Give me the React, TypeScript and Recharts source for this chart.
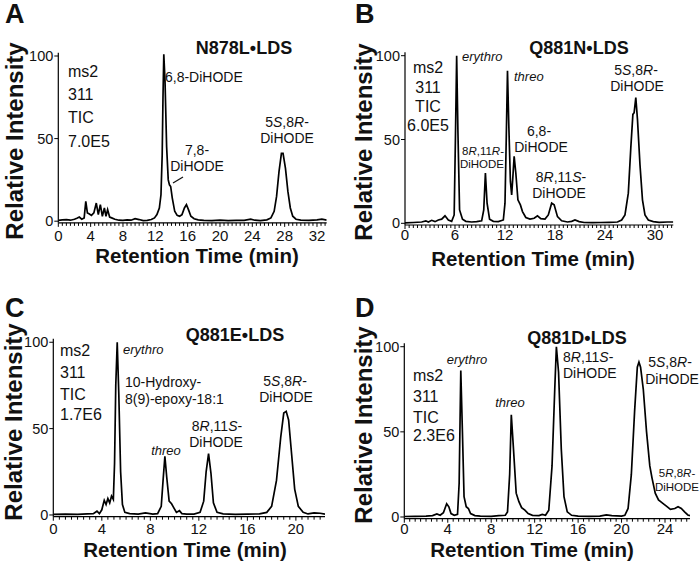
import React from 'react';
import { LineChart, Line, XAxis, YAxis } from 'recharts';

const FONT = '"Liberation Sans", Arial, Helvetica, sans-serif';

// A: N878L•LDS
const timeA = [0, 0.5, 1.0, 1.5, 2.0, 2.3, 2.6, 2.9, 3.2, 3.4, 3.6, 3.8, 4.1, 4.4, 4.7, 4.95, 5.2, 5.45, 5.7, 5.9, 6.1, 6.35, 6.6, 7.0, 7.5, 8.0, 8.5, 9.0, 9.5, 10.0, 10.5, 11.0, 11.5, 11.9, 12.2, 12.5, 12.7, 12.85, 12.95, 13.05, 13.2, 13.4, 13.6, 13.75, 13.9, 14.1, 14.4, 14.7, 15.0, 15.3, 15.6, 15.85, 16.1, 16.4, 16.8, 17.3, 18, 19, 20, 21, 22, 23, 23.8, 24.3, 25, 25.8, 26.3, 26.7, 27.0, 27.3, 27.6, 27.8, 28.1, 28.4, 28.7, 29.0, 29.4, 30, 31, 32, 32.6, 33.2];
const intensityA = [0.5, 0.8, 1.0, 0.6, 1.2, 1.8, 2.5, 1.2, 2.0, 12, 5, 4.5, 3.5, 5, 11, 4, 10, 3, 8, 3, 7, 2.5, 2.0, 1.2, 0.6, 0.5, 0.8, 0.6, 1.5, 1.0, 0.4, 0.5, 1.0, 2, 4, 8, 16, 40, 75, 101, 85, 45, 25, 22, 21, 14, 6, 3.5, 3, 4, 8, 10, 7, 3, 1.5, 0.8, 0.5, 0.4, 0.6, 0.4, 0.5, 0.5, 1.2, 0.6, 0.4, 0.8, 2, 6, 15, 30, 41, 41, 32, 18, 8, 3, 1.2, 0.6, 0.5, 0.8, 1.2, 0.6];
const xTicksA = [0, 4, 8, 12, 16, 20, 24, 28, 32];

// B: Q881N•LDS
const timeB = [0, 1, 2, 2.5, 2.8, 3.2, 3.6, 4.0, 4.4, 4.8, 5.2, 5.6, 5.9, 6.05, 6.2, 6.35, 6.55, 6.9, 7.3, 8, 8.6, 9.2, 9.45, 9.65, 9.85, 10.15, 10.6, 11.2, 11.8, 12.0, 12.15, 12.3, 12.45, 12.65, 12.8, 12.95, 13.1, 13.3, 13.55, 13.85, 14.1, 14.5, 15.0, 15.5, 15.9, 16.3, 16.8, 17.2, 17.6, 17.9, 18.3, 18.8, 19.5, 20.0, 20.4, 20.9, 21.5, 22.5, 23.5, 24.5, 25.5, 26.0, 26.4, 26.8, 27.1, 27.35, 27.5, 27.7, 27.9, 28.2, 28.5, 28.8, 29.2, 29.8, 30.5, 31.5, 32.2];
const intensityB = [0.3, 0.5, 0.8, 1.5, 0.8, 1.8, 1.0, 2.0, 2.5, 4.5, 2.0, 1.2, 5, 50, 100, 55, 8, 2.5, 1.2, 0.8, 1.0, 1.5, 8, 30, 12, 2.5, 1.2, 1.0, 2, 12, 50, 91, 60, 25, 17, 28, 40, 30, 14, 11, 7, 3.5, 2.5, 3, 4.5, 2.8, 2.5, 5, 12, 11, 4, 1.5, 0.8, 1.2, 2, 1.0, 0.5, 0.4, 0.5, 0.6, 0.8, 2, 5, 18, 45, 65, 66, 75, 62, 35, 14, 5, 2, 1.0, 0.6, 0.8, 0.8];
const xTicksB = [0, 6, 12, 18, 24, 30];

// C: Q881E•LDS
const timeC = [0, 1, 2, 2.8, 3.3, 3.6, 3.8, 4.0, 4.2, 4.35, 4.5, 4.65, 4.8, 4.95, 5.05, 5.15, 5.27, 5.4, 5.55, 5.7, 5.9, 6.3, 7, 7.6, 8.2, 8.6, 8.9, 9.05, 9.2, 9.35, 9.55, 9.75, 9.95, 10.15, 10.4, 10.6, 11, 11.6, 12.1, 12.4, 12.6, 12.8, 13.0, 13.2, 13.5, 14, 15, 16, 17, 17.6, 18.0, 18.4, 18.75, 19.0, 19.2, 19.4, 19.65, 19.9, 20.2, 20.6, 21, 21.5, 22, 22.4];
const intensityC = [0.3, 0.5, 0.4, 0.6, 0.8, 2.2, 0.8, 3, 8.5, 6, 9.5, 7, 11, 9, 30, 75, 100, 70, 25, 6, 1.5, 0.8, 0.5, 1.2, 0.5, 0.8, 5, 20, 34, 22, 8, 6.5, 4, 1.5, 2.5, 0.8, 0.5, 0.5, 1.5, 8, 25, 35.5, 24, 7, 1.5, 0.6, 0.4, 0.5, 0.6, 1.5, 5, 20, 45, 59, 60, 55, 35, 15, 5, 1.5, 0.6, 1.2, 1.0, 0.5];
const xTicksC = [0, 4, 8, 12, 16, 20];

// D: Q881D•LDS
const timeD = [0, 1, 2, 2.6, 3.0, 3.3, 3.6, 3.9, 4.1, 4.3, 4.6, 4.9, 5.05, 5.2, 5.35, 5.5, 5.7, 5.9, 6.1, 6.5, 7, 8, 8.7, 9.3, 9.5, 9.7, 9.85, 10.05, 10.3, 10.55, 10.8, 11.1, 11.4, 11.8, 12.4, 12.7, 13.0, 13.3, 13.6, 13.85, 14.0, 14.2, 14.45, 14.7, 15.0, 15.4, 16, 17, 18, 18.6, 19.1, 20, 20.3, 20.6, 20.9, 21.2, 21.45, 21.6, 21.75, 22.0, 22.3, 22.6, 22.8, 23.1, 23.4, 23.8, 24.1, 24.5, 24.9, 25.2, 25.5, 25.8, 26.1, 26.3];
const intensityD = [0.3, 0.4, 0.5, 0.8, 1.8, 1.0, 2.5, 7.8, 6, 2, 1.0, 1.5, 20, 86, 50, 12, 6, 5, 2, 0.8, 0.5, 0.4, 0.8, 1.0, 3, 25, 60, 40, 14, 9, 5.5, 4, 2, 1.0, 0.8, 1.5, 1.0, 4, 30, 75, 100, 85, 40, 12, 3, 1.0, 0.5, 0.4, 0.5, 1.2, 0.8, 0.5, 1.0, 5, 25, 62, 88, 91, 88, 75, 50, 30, 23, 14, 10, 8, 6.5, 4.5, 5, 6, 5, 3, 1.2, 0.8];
const xTicksD = [0, 4, 8, 12, 16, 20, 24];

const yTicks = [0, 50, 100];

const toRows = (t: number[], v: number[]) => t.map((x, i) => ({ t: x, v: v[i] }));

// minor ticks every half minute
function halfMinutes(max: number) {
  const out: number[] = [];
  for (let k = 0; k * 0.5 <= max; k++) out.push(k * 0.5);
  return out;
}

function XTick(props: any) {
  const { x, y, payload, majors, labelDy } = props;
  const major = majors.includes(payload.value);
  return (
    <g>
      <line x1={x} x2={x} y1={y} y2={y + (major ? 4 : 3)} stroke="#000" strokeWidth={1} />
      {major && (
        <text x={x} y={y + labelDy} textAnchor="middle" fontSize={15} fontFamily={FONT} fill="#111">
          {payload.value}
        </text>
      )}
    </g>
  );
}

type PanelProps = {
  left: number;
  top: number;
  width: number;
  height: number;
  margin: { top: number; right: number; bottom: number; left: number };
  yWidth: number;
  xMax: number;
  majors: number[];
  labelDy: number;
  rows: { t: number; v: number }[];
};

function Panel({ left, top, width, height, margin, yWidth, xMax, majors, labelDy, rows }: PanelProps) {
  return (
    <div style={{ position: 'absolute', left, top }}>
      <LineChart width={width} height={height} data={rows} margin={margin}>
        <XAxis
          dataKey="t"
          type="number"
          domain={[0, xMax]}
          ticks={halfMinutes(xMax)}
          interval={0}
          tickSize={0}
          tickMargin={0}
          tickLine={false}
          tick={(p: any) => <XTick {...p} majors={majors} labelDy={labelDy} />}
          axisLine={{ stroke: '#000', strokeWidth: 1.2 }}
          height={30}
          allowDataOverflow
        />
        <YAxis
          type="number"
          domain={[-1, 102]}
          ticks={yTicks}
          width={yWidth}
          tickSize={4}
          tickMargin={1}
          tick={{ fontSize: 14.5, fill: '#111', fontFamily: FONT }}
          tickLine={{ stroke: '#000' }}
          axisLine={{ stroke: '#000', strokeWidth: 1.2 }}
          allowDataOverflow
        />
        <Line dataKey="v" type="linear" stroke="#000" strokeWidth={1.7} dot={false} isAnimationActive={false} />
      </LineChart>
    </div>
  );
}

const T = ({ x, y, size = 14, anchor = 'start', weight = 'normal', italic = false, children }: any) => (
  <text
    x={x}
    y={y}
    fontSize={size}
    textAnchor={anchor}
    fontWeight={weight}
    fontStyle={italic ? 'italic' : 'normal'}
    fontFamily={FONT}
    fill="#111"
  >
    {children}
  </text>
);
const I = ({ children }: any) => <tspan fontStyle="italic">{children}</tspan>;

const YTitle = ({ x, y }: { x: number; y: number }) => (
  <text x={0} y={0} transform={`translate(${x},${y}) rotate(-90)`} textAnchor="middle" fontSize={24} fontWeight="bold" fontFamily={FONT} fill="#111">
    Relative Intensity
  </text>
);
const XTitle = ({ x, y }: { x: number; y: number }) => (
  <T x={x} y={y} size={20.5} anchor="middle" weight="bold">Retention Time (min)</T>
);

function Overlay() {
  return (
    <svg width={700} height={563} style={{ position: 'absolute', left: 0, top: 0, pointerEvents: 'none' }}>
      {/* panel letters */}
      <T x={5} y={23} size={27} weight="bold">A</T>
      <T x={355} y={23} size={27} weight="bold">B</T>
      <T x={5} y={317} size={27} weight="bold">C</T>
      <T x={355} y={317} size={27} weight="bold">D</T>

      {/* titles */}
      <T x={244} y={54} size={18} anchor="middle" weight="bold">N878L•LDS</T>
      <T x={579} y={54} size={18} anchor="middle" weight="bold">Q881N•LDS</T>
      <T x={235} y={341} size={18} anchor="middle" weight="bold">Q881E•LDS</T>
      <T x={577} y={344} size={18} anchor="middle" weight="bold">Q881D•LDS</T>

      <YTitle x={23} y={141} />
      <YTitle x={371.5} y={142} />
      <YTitle x={21.5} y={422} />
      <YTitle x={371.5} y={425} />
      <XTitle x={197} y={263} />
      <XTitle x={533} y={266} />
      <XTitle x={185} y={557} />
      <XTitle x={532} y={557} />

      {/* A */}
      <T x={68} y={77} size={16}>ms2</T>
      <T x={68} y={100} size={16}>311</T>
      <T x={68} y={123} size={16}>TIC</T>
      <T x={68} y={147} size={16}>7.0E5</T>
      <T x={165} y={82}>6,8-DiHODE</T>
      <T x={197} y={155} anchor="middle">7,8-</T>
      <T x={197} y={171} anchor="middle">DiHODE</T>
      <line x1={173} y1={183} x2={183} y2={177} stroke="#111" strokeWidth={1.2} />
      <T x={287} y={127} anchor="middle">5<I>S</I>,8<I>R</I>-</T>
      <T x={287} y={143} anchor="middle">DiHODE</T>

      {/* B */}
      <T x={428} y={73} size={16} anchor="middle">ms2</T>
      <T x={428} y={93} size={16} anchor="middle">311</T>
      <T x={428} y={112} size={16} anchor="middle">TIC</T>
      <T x={428} y={131} size={16} anchor="middle">6.0E5</T>
      <T x={462} y={61} size={13} italic>erythro</T>
      <T x={514} y={81} size={13} italic>threo</T>
      <T x={483} y={155} size={11.5} anchor="middle">8<I>R</I>,11<I>R</I>-</T>
      <T x={482} y={168} size={11.5} anchor="middle">DiHODE</T>
      <T x={539} y={136} anchor="middle">6,8-</T>
      <T x={541} y={152} anchor="middle">DiHODE</T>
      <T x={561} y={182} anchor="middle">8<I>R</I>,11<I>S</I>-</T>
      <T x={559} y={198} anchor="middle">DiHODE</T>
      <T x={636} y={75} anchor="middle">5<I>S</I>,8<I>R</I>-</T>
      <T x={637} y={91} anchor="middle">DiHODE</T>

      {/* C */}
      <T x={60} y={356} size={16}>ms2</T>
      <T x={60} y={378} size={16}>311</T>
      <T x={60} y={400} size={16}>TIC</T>
      <T x={60} y={420} size={16}>1.7E6</T>
      <T x={123} y={354} size={13} italic>erythro</T>
      <T x={125} y={387}>10-Hydroxy-</T>
      <T x={125} y={404}>8(9)-epoxy-18:1</T>
      <T x={166} y={455} size={13} anchor="middle" italic>threo</T>
      <T x={217} y={431} anchor="middle">8<I>R</I>,11<I>S</I>-</T>
      <T x={216} y={447} anchor="middle">DiHODE</T>
      <T x={285} y={386} anchor="middle">5<I>S</I>,8<I>R</I>-</T>
      <T x={286} y={402} anchor="middle">DiHODE</T>

      {/* D */}
      <T x={413} y={381} size={16}>ms2</T>
      <T x={413} y={402} size={16}>311</T>
      <T x={413} y={423} size={16}>TIC</T>
      <T x={413} y={441} size={16}>2.3E6</T>
      <T x={467} y={364} size={13} anchor="middle" italic>erythro</T>
      <T x={510} y={407} size={13} anchor="middle" italic>threo</T>
      <T x={563} y={362}>8<I>R</I>,11<I>S</I>-</T>
      <T x={563} y={378}>DiHODE</T>
      <T x={670} y={367} anchor="middle">5<I>S</I>,8<I>R</I>-</T>
      <T x={672} y={384} anchor="middle">DiHODE</T>
      <T x={677} y={477} size={11.5} anchor="middle">5<I>R</I>,8<I>R</I>-</T>
      <T x={677} y={491} size={11.5} anchor="middle">DiHODE</T>
    </svg>
  );
}

export default function App() {
  return (
    <div style={{ position: 'absolute', left: 0, top: 0, width: 700, height: 563, background: '#fff', overflow: 'hidden' }}>
      <Panel
        left={0}
        top={0}
        width={340}
        height={280}
        margin={{ top: 52.7, right: 13.3, bottom: 27.15, left: 0 }}
        yWidth={58.3}
        xMax={33.2}
        majors={xTicksA}
        labelDy={18}
        rows={toRows(timeA, intensityA)}
      />
      <Panel
        left={350}
        top={0}
        width={340}
        height={280}
        margin={{ top: 52.35, right: 16.7, bottom: 25, left: 0 }}
        yWidth={55}
        xMax={32.2}
        majors={xTicksB}
        labelDy={15}
        rows={toRows(timeB, intensityB)}
      />
      <Panel
        left={0}
        top={280}
        width={340}
        height={283}
        margin={{ top: 58.8, right: 15, bottom: 16.3, left: 0 }}
        yWidth={53.3}
        xMax={22.4}
        majors={xTicksC}
        labelDy={17}
        rows={toRows(timeC, intensityC)}
      />
      <Panel
        left={350}
        top={280}
        width={350}
        height={283}
        margin={{ top: 63.3, right: 10, bottom: 14.3, left: 0 }}
        yWidth={54.3}
        xMax={26.3}
        majors={xTicksD}
        labelDy={15.5}
        rows={toRows(timeD, intensityD)}
      />
      <Overlay />
    </div>
  );
}
